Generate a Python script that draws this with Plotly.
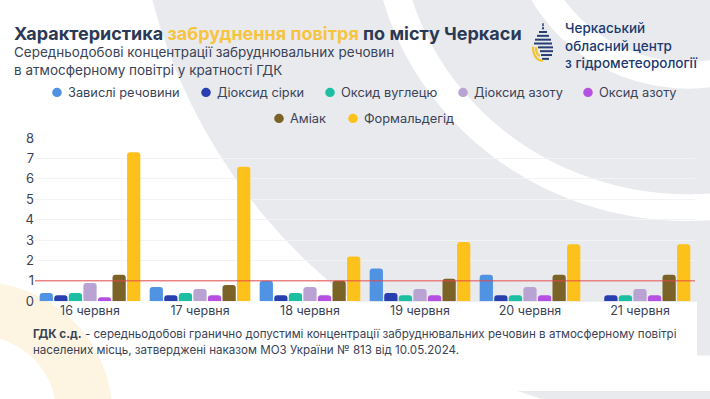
import plotly.graph_objects as go

W, H = 710, 399

days = ["16 червня", "17 червня", "18 червня", "19 червня", "20 червня", "21 червня"]
series_names = ["Завислі речовини", "Діоксид сірки", "Оксид вуглецю", "Діоксид азоту",
                "Оксид азоту", "Аміак", "Формальдегід"]
suspended = [0.4, 0.7, 1.0, 1.6, 1.3, None]
so2 = [0.3, 0.3, 0.3, 0.4, 0.3, 0.3]
co = [0.4, 0.4, 0.4, 0.3, 0.3, 0.3]
no2 = [0.9, 0.6, 0.7, 0.6, 0.7, 0.6]
no = [0.2, 0.3, 0.3, 0.3, 0.3, 0.3]
ammonia = [1.3, 0.8, 1.0, 1.1, 1.3, 1.3]
formaldehyde = [7.3, 6.6, 2.2, 2.9, 2.8, 2.8]
limit_value = 1
y_ticks = [0, 1, 2, 3, 4, 5, 6, 7, 8]

colors = ["#4f93e2", "#2a3faf", "#1cbfa2", "#b9a3d3", "#b550e3", "#7b6327", "#fdc11c"]
values = [suspended, so2, co, no2, no, ammonia, formaldehyde]

FONT = "Inter"
TXT = "#3a4357"
NAVY = "#2b3955"


def px(x):
    return x / W


def py(y):
    return 1 - y / H


fig = go.Figure()
for name, vals, col in zip(series_names, values, colors):
    fig.add_trace(go.Bar(x=days, y=vals, name=name, marker=dict(color=col, line=dict(width=0)),
                         showlegend=False))

shapes = []


def circle(cx, cy, r, color, layer="below"):
    shapes.append(dict(type="circle", xref="paper", yref="paper",
                       x0=px(cx - r), x1=px(cx + r), y0=py(cy + r), y1=py(cy - r),
                       fillcolor=color, line=dict(width=0), layer=layer))


def rect(x0, y0, x1, y1, color, layer="below"):
    shapes.append(dict(type="rect", xref="paper", yref="paper",
                       x0=px(x0), x1=px(x1), y0=py(y1), y1=py(y0),
                       fillcolor=color, line=dict(width=0), layer=layer))


GRAY = "#e9eaee"
# background decoration
circle(720, -150, 585, GRAY)
circle(688, -95, 317, "white")
circle(688, -95, 289, GRAY)
circle(688, -95, 179, "white")
circle(688, -95, 151, GRAY)
rect(0, 306, 697, 399, "white")
rect(697, 362, 710, 399, "white")
circle(-24, 421, 136, "#fdf5e1")
circle(-24, 421, 80, "white")

# limit line
shapes.append(dict(type="line", xref="x domain", yref="y", x0=0, x1=1, y0=limit_value, y1=limit_value,
                   line=dict(color="rgba(226,70,70,0.65)", width=1.5), layer="above"))

# logo icon (approximation of a striped droplet)
LOGO_NAVY = "#283f73"
logo_lines = [(21, 542, 544), (25, 539, 547), (29, 537, 549), (33, 535, 551),
              (37, 534, 552), (41, 538, 553), (45, 540, 553), (49, 541, 552), (53, 542, 549)]
for yy, xa, xb in logo_lines:
    shapes.append(dict(type="line", xref="paper", yref="paper", x0=px(xa), x1=px(xb),
                       y0=py(yy), y1=py(yy), line=dict(color=LOGO_NAVY, width=2)))
for (sx, sy, cx_, cy_, ex, ey) in [(533, 40, 533, 54, 543, 55), (536, 41, 536, 49, 540, 50)]:
    shapes.append(dict(type="path", xref="paper", yref="paper",
                       path=f"M {px(sx)} {py(sy)} Q {px(cx_)} {py(cy_)} {px(ex)} {py(ey)}",
                       line=dict(color="#f2c230", width=2.2)))
shapes.append(dict(type="line", xref="paper", yref="paper", x0=px(543), x1=px(543),
                   y0=py(16), y1=py(19), line=dict(color=LOGO_NAVY, width=1.5)))

annotations = []


def text(x, y, s, size, color=TXT, xanchor="left", weight=None):
    f = dict(family=FONT, size=size, color=color)
    if weight:
        f["weight"] = weight
    annotations.append(dict(xref="paper", yref="paper", x=px(x), y=py(y), text=s,
                            showarrow=False, xanchor=xanchor, yanchor="middle",
                            font=f, align="left"))


text(12, 27, "<b>Характеристика <span style='color:#f7c43f'>забруднення повітря</span> по місту Черкаси</b>",
     18, NAVY)
text(12, 55, "Середньодобові концентрації забруднювальних речовин<br>в атмосферному повітрі у кратності ГДК", 13.5)
text(563, 39, "Черкаський<br>обласний центр<br>з гідрометеорології", 13.5, "#203a6e", weight=500)

# legend (manual, circle markers)
legend_pos = [(57, 88), (206, 88), (330, 88), (463, 88), (588, 88), (279, 115), (353, 115)]
for (lx, ly), name, col in zip(legend_pos, series_names, colors):
    circle(lx, ly, 4.8, col, layer="above")
    text(lx + 9, ly, name, 12.8)

# footnote
text(31, 340, "<b>ГДК с.д.</b> - середньодобові гранично допустимі концентрації забруднювальних речовин в атмосферному повітрі",
     11.6)
text(31, 356, "населених місць, затверджені наказом МОЗ України № 813 від 10.05.2024.", 11.6)

fig.update_layout(
    width=W, height=H,
    margin=dict(l=0, r=0, t=0, b=0),
    paper_bgcolor="white", plot_bgcolor="rgba(0,0,0,0)",
    barmode="group", bargap=0.073, bargroupgap=0.09, barcornerradius=3,
    shapes=shapes, annotations=annotations,
    font=dict(family=FONT, color=TXT),
    xaxis=dict(domain=[px(35), px(695)], showgrid=False, showline=False, zeroline=False,
               tickfont=dict(size=12.5, color=TXT), ticks="", fixedrange=True),
    yaxis=dict(domain=[py(305.5), py(135.5)], range=[0, 8], tickvals=y_ticks,
               showgrid=True, gridcolor="#f2f3f5", gridwidth=1,
               zeroline=False, showline=False, ticks="",
               tickfont=dict(size=13, color=TXT), fixedrange=True),
    showlegend=False,
)

fig.write_html("out.html")
